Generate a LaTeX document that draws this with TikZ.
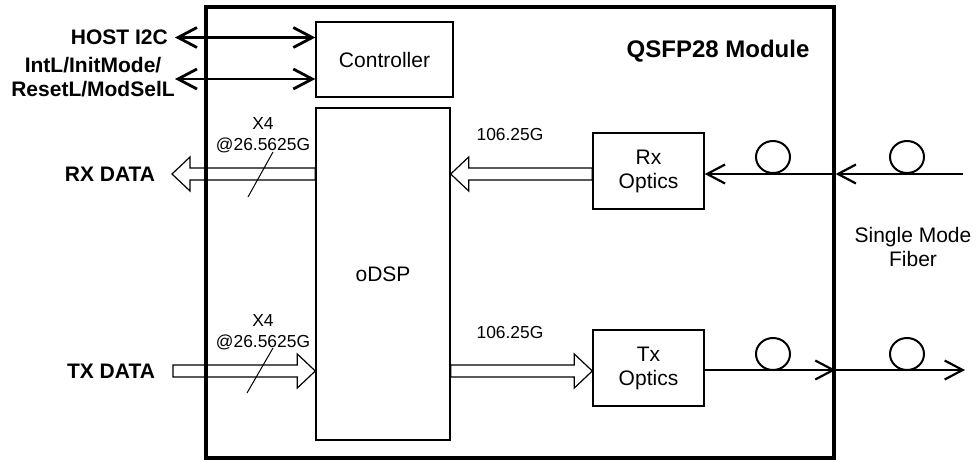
\documentclass[tikz,border=0pt]{standalone}
\usepackage{fontspec}
\setmainfont{Liberation Sans}
\usetikzlibrary{arrows.meta,positioning,calc}

% hollow bus arrow from #1 to #2 (tip at #2)
\newcommand{\busarrow}[2]{%
  \draw[bus] ($(#1)!6pt!90:(#2)$) -- ($(#2)!18pt!(#1)!6pt!-90:(#1)$)
    -- ($(#2)!18pt!(#1)!17pt!-90:(#1)$) -- (#2)
    -- ($(#2)!18pt!(#1)!17pt!90:(#1)$) -- ($(#2)!18pt!(#1)!6pt!90:(#1)$)
    -- ($(#1)!6pt!-90:(#2)$) -- cycle;}

\begin{document}
\begin{tikzpicture}[x=1pt,y=-1pt,
    box/.style={draw,line width=1.4pt,inner sep=0pt,align=center,font=\fontsize{21}{24}\selectfont},
    lbl/.style={font=\bfseries\fontsize{21}{23.5}\selectfont,align=center,inner sep=0pt},
    rate/.style={font=\fontsize{17.4}{21}\selectfont,align=center,inner sep=0pt},
    ctrl/.style={{Straight Barb[length=19pt,width=20pt]}-{Straight Barb[length=19pt,width=20pt]},line width=2.8pt},
    fiber/.style={-{Straight Barb[length=18pt,width=19pt]},line width=2.2pt},
    bus/.style={line width=1.2pt},
    slash/.style={line width=1pt},
    coil/.style={line width=2pt}]

    \useasboundingbox (0,0) rectangle (980,461);

    % The module and its blocks
    \node [draw,line width=3.2pt,minimum width=628pt,minimum height=451pt,inner sep=0pt] at (520,232.5) (module) {};
    \node [lbl,font=\bfseries\fontsize{24}{28}\selectfont] at (718,51) (title) {QSFP28 Module};

    \node [box,minimum width=137pt,minimum height=75pt] at (384.5,59.5) (ctrl) {Controller};
    \node [box,minimum width=134pt,minimum height=332pt] at (383,274) (dsp) {oDSP};
    \node [box,minimum width=111pt,minimum height=76pt] at (648.5,171) (rxopt) {Rx\\Optics};
    \node [box,minimum width=111pt,minimum height=76pt] at (648.5,368) (txopt) {Tx\\Optics};

    % Host side
    \node [lbl,anchor=east] at (168,37.5) (host) {HOST I2C};
    \node [lbl] at (93,77) (pins) {IntL/InitMode/\\ResetL/ModSelL};
    \node [lbl] at (110,174) (rxdata) {RX DATA};
    \node [lbl] at (111,371) (txdata) {TX DATA};

    \coordinate (i2c) at (175,37.5);
    \coordinate (pin) at (175,79);
    \coordinate (rxin) at (172,174);
    \coordinate (txin) at (173,371);

    \draw[ctrl] (i2c) -- (i2c -| ctrl.west);
    \draw[ctrl] (pin) -- (pin -| ctrl.west);

    % Electrical lanes
    \coordinate (rxdsp) at (dsp.west |- rxin);
    \coordinate (txdsp) at (dsp.west |- txin);
    \coordinate (rxdspo) at (dsp.east |- rxin);
    \coordinate (txdspo) at (dsp.east |- txin);
    \coordinate (rxopti) at (rxopt.west |- rxin);
    \coordinate (txopti) at (txopt.west |- txin);

    \busarrow{rxdsp}{rxin}
    \busarrow{txin}{txdsp}
    \busarrow{rxopti}{rxdspo}
    \busarrow{txdspo}{txopti}

    \draw[slash] (273,152) -- (248,197);
    \draw[slash] (273,348) -- (247,393);

    \node [rate] at (263,135.5) (rxlanes) {X4\\@26.5625G};
    \node [rate] at (263,332.5) (txlanes) {X4\\@26.5625G};
    \node [rate] at (510,135) (rxrate) {106.25G};
    \node [rate] at (510,333) (txrate) {106.25G};

    % Fiber side
    \coordinate (rxfib) at (963,174);
    \coordinate (txfib) at (965,370);
    \coordinate (rxwall) at (module.east |- rxfib);
    \coordinate (txwall) at (module.east |- txfib);

    \path[fiber]
    (rxfib) edge (rxwall)
    (rxwall) edge (rxopt.east |- rxfib)
    (txopt.east |- txfib) edge (txwall)
    (txwall) edge (txfib)
    ;

    \draw[coil] (773,157) ellipse [x radius=17, y radius=16];
    \draw[coil] (907,157) ellipse [x radius=17, y radius=16];
    \draw[coil] (773,354) ellipse [x radius=17, y radius=16];
    \draw[coil] (907,354) ellipse [x radius=17, y radius=16];

    \node [font=\fontsize{21}{24}\selectfont,align=center,inner sep=0pt] at (913,247) (smf) {Single Mode\\Fiber};

\end{tikzpicture}
\end{document}
